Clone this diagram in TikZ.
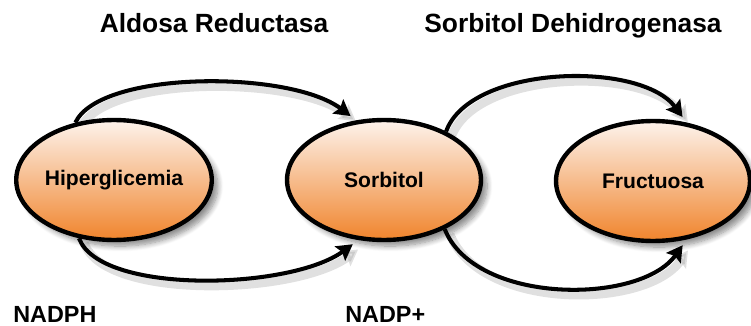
\documentclass[tikz,border=0pt]{standalone}
\usepackage{fontspec}
\setmainfont{Liberation Sans}
\usetikzlibrary{shapes.geometric,arrows.meta,shadows.blur}
\definecolor{peach}{RGB}{253,243,236}
\definecolor{pumpkin}{RGB}{240,132,44}
\pgfdeclarelayer{back}
\pgfsetlayers{back,main}

\begin{document}
\begin{tikzpicture}[x=0.02cm, y=0.02cm,
	sugar/.style={ellipse, draw=black, line width=2.5pt, minimum width=3.88cm, minimum height=2.4cm, inner sep=0pt,
		top color=peach, bottom color=pumpkin,
		blur shadow={shadow xshift=3.5pt, shadow yshift=-3.5pt, shadow blur radius=3pt, shadow blur steps=8, shadow opacity=45},
		font=\bfseries\fontsize{12}{14}\selectfont},
	enzyme/.style={font=\bfseries\fontsize{15}{18}\selectfont, inner sep=0pt, anchor=base},
	cofactor/.style={font=\bfseries\fontsize{13.3}{16}\selectfont, inner sep=0pt, anchor=base west},
	flow/.style={line width=2.3pt, shorten >=4pt, -{Stealth[length=9pt,width=10pt,inset=1.5pt]},
		preaction={draw=black!40, opacity=0.3, line width=5pt, transform canvas={shift={(3pt,-3pt)}}}}]
	\useasboundingbox (0,0) rectangle (751,325);

	\node[sugar] (hyper) at (114,145) {Hiperglicemia};
	\node[sugar] (sorb) at (384,145) {Sorbitol};
	\node[sugar] (fruc) at (653,144) {Fructuosa};

	\node[enzyme] (aldose) at (214,292) {Aldosa Reductasa};
	\node[enzyme] (sdh) at (573,292) {Sorbitol Dehidrogenasa};
	\node[cofactor] (nadph) at (13,3) {NADPH};
	\node[cofactor] (nadp) at (345,3) {NADP+};

	% arrows go behind the ellipses
	\begin{pgfonlayer}{back}
	\draw[flow] (hyper.124) .. controls (100,255) and (290,255) .. (sorb.115);
	\draw[flow] (hyper.239) .. controls (100,30) and (290,35) .. (sorb.247);
	\draw[flow] (sorb.38) .. controls (470,260) and (640,265) .. (fruc.60);
	\draw[flow] (sorb.321) .. controls (475,20) and (640,20) .. (fruc.300);
	\end{pgfonlayer}
\end{tikzpicture}
\end{document}
